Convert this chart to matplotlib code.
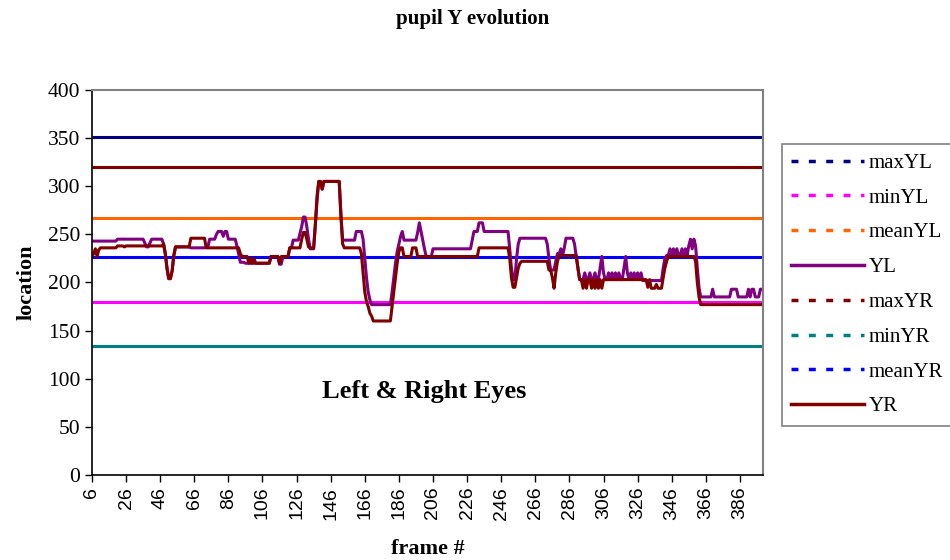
#coding:utf-8
import numpy as np
import matplotlib
matplotlib.use('Agg')
import matplotlib.pyplot as plt
from matplotlib.lines import Line2D

# frame where each run of constant value starts, and its value
yl_start = [6, 21, 37, 38, 40, 41, 48, 49, 50, 51, 53, 54, 55, 64, 73, 75, 79, 80, 83, 84, 86, 91, 92,
            93, 96, 111, 116, 118, 122, 124, 128, 129, 130, 132, 133, 134, 137, 138, 139, 141, 142, 152, 153,
            154, 161, 165, 166, 167, 168, 169, 170, 182, 183, 184, 185, 186, 187, 188, 189, 197, 198, 199,
            200, 201, 202, 206, 229, 230, 233, 236, 251, 252, 253, 255, 256, 257, 273, 274, 275, 278, 279,
            281, 282, 283, 284, 289, 290, 291, 292, 295, 296, 298, 299, 301, 302, 304, 305, 306, 307, 309,
            310, 311, 312, 313, 314, 315, 316, 318, 319, 320, 321, 322, 323, 324, 325, 326, 327, 328, 329,
            341, 342, 343, 345, 346, 347, 348, 349, 350, 352, 353, 354, 355, 356, 357, 358, 359, 360, 361,
            362, 363, 370, 371, 381, 385, 391, 392, 393, 395, 398]
yl_val = [243, 245, 241, 237, 241, 245, 240, 230, 215, 204, 212, 228, 237, 236, 237, 245, 250, 253, 248, 253, 245, 238, 230,
          221, 220, 227, 219, 227, 236, 244, 251, 258, 268, 258, 245, 235, 260, 285, 305, 297, 305, 270, 244,
          244, 253, 245, 225, 205, 190, 182, 177, 190, 205, 220, 232, 240, 248, 253, 244, 252, 262, 253,
          244, 235, 227, 235, 244, 253, 262, 253, 235, 215, 203, 225, 240, 246, 240, 225, 213, 222, 230,
          235, 228, 236, 246, 240, 227, 215, 203, 210, 203, 210, 203, 210, 203, 215, 227, 210, 203, 210,
          203, 210, 203, 210, 203, 210, 203, 215, 227, 210, 203, 210, 203, 210, 203, 210, 203, 210, 202,
          215, 225, 228, 235, 228, 235, 228, 235, 228, 235, 228, 235, 228, 238, 245, 235, 245, 238, 215,
          195, 185, 193, 185, 193, 185, 193, 185, 193, 185, 193]

yr_start = [6, 7, 8, 9, 10, 11, 21, 25, 26, 48, 49, 50, 51, 53, 54, 55, 64, 73, 93, 94, 98, 99, 100, 101,
            102, 111, 116, 117, 122, 129, 130, 132, 133, 134, 137, 138, 139, 141, 142, 152, 153, 154, 164,
            165, 166, 167, 168, 169, 170, 171, 182, 183, 184, 185, 186, 187, 189, 194, 197, 233, 251, 252,
            253, 255, 256, 257, 258, 274, 276, 277, 278, 279, 280, 291, 292, 294, 295, 296, 297, 299, 300,
            301, 302, 303, 304, 305, 306, 332, 333, 334, 337, 338, 341, 342, 343, 344, 360, 361, 362, 363]
yr_val = [227, 230, 235, 227, 234, 236, 238, 237, 238, 240, 230, 215, 204, 212, 228, 237, 246, 236, 230, 227, 220, 225, 220, 225,
          220, 227, 220, 227, 236, 245, 252, 245, 237, 236, 260, 290, 305, 297, 305, 270, 240, 236, 230,
          210, 190, 180, 175, 168, 165, 160, 175, 190, 205, 220, 232, 236, 227, 236, 227, 236, 225, 205,
          195, 205, 215, 220, 222, 213, 205, 194, 210, 222, 228, 215, 203, 194, 203, 194, 203, 194, 203,
          194, 203, 194, 203, 194, 203, 195, 203, 194, 198, 194, 205, 215, 222, 227, 222, 200, 185, 177]

last_frame = 399

# summary lines
ref_names = ['maxYL', 'minYL', 'meanYL', 'maxYR', 'minYR', 'meanYR']
ref_vals = [351, 180, 267, 320, 134, 227]
ref_colors = ['#000080', '#FF00FF', '#FF6600', '#800000', '#008080', '#0000FF']

legend_names = ['maxYL', 'minYL', 'meanYL', 'YL', 'maxYR', 'minYR', 'meanYR', 'YR']
yl_color = '#800080'
yr_color = '#800000'

xticks = list(range(6, 387, 20))


def expand(starts, vals):
    counts = np.diff(starts + [last_frame + 1])
    return np.repeat(vals, counts)


def main():
    serif = ['Liberation Serif', 'DejaVu Serif']
    sans = ['Liberation Sans', 'DejaVu Sans']
    frames = np.arange(6, last_frame + 1)
    yl = expand(yl_start, yl_val)
    yr = expand(yr_start, yr_val)

    fig = plt.figure(figsize=(9.5, 5.6), dpi=100)
    ax = fig.add_axes([0.0968, 0.1518, 0.7063, 0.6875])

    for name, v, c in zip(ref_names, ref_vals, ref_colors):
        ax.plot([6, last_frame + 0.5], [v, v], color=c, lw=2.2, solid_capstyle='butt')
    ax.plot(frames, yl, color=yl_color, lw=2.2)
    ax.plot(frames, yr, color=yr_color, lw=2.2)

    ax.set_xlim(6, last_frame + 0.5)
    ax.set_ylim(0, 400)
    ax.set_yticks(range(0, 401, 50))
    ax.set_xticks(xticks)
    ax.set_xticklabels([str(t) for t in xticks], rotation=90, family=sans, fontsize=14)
    ax.set_yticklabels([str(t) for t in range(0, 401, 50)], family=serif, fontsize=15.5)
    ax.tick_params(direction='out', length=5, width=1, colors='black')
    for s in ['top', 'right']:
        ax.spines[s].set_color('#808080')
        ax.spines[s].set_linewidth(1.5)
    for s in ['left', 'bottom']:
        ax.spines[s].set_color('black')
        ax.spines[s].set_linewidth(1.2)

    ax.set_xlabel('frame #', family=serif, fontweight='bold', fontsize=16, labelpad=14)
    ax.set_ylabel('location', family=serif, fontweight='bold', fontsize=16, labelpad=8)
    fig.text(0.497, 0.966, 'pupil Y evolution', family=serif, fontweight='bold', fontsize=15,
             ha='center', va='center')
    ax.text(0.495, 0.216, 'Left & Right Eyes', transform=ax.transAxes, family=serif,
            fontweight='bold', fontsize=19, ha='center', va='center')

    handles = []
    leg_colors = ref_colors[:3] + [yl_color] + ref_colors[3:] + [yr_color]
    for name, c in zip(legend_names, leg_colors):
        if name in ('YL', 'YR'):
            handles.append(Line2D([], [], color=c, lw=2.5))
        else:
            handles.append(Line2D([], [], color=c, lw=2.5, linestyle=(0, (2, 3))))
    leg = fig.legend(handles, legend_names, loc='upper left', bbox_to_anchor=(0.823, 0.743),
                     prop={'family': serif, 'size': 15}, frameon=True, fancybox=False,
                     handlelength=3.5, handletextpad=0.2, labelspacing=0.73, borderpad=0.45,
                     borderaxespad=0)
    leg.get_frame().set_edgecolor('#606060')
    leg.get_frame().set_linewidth(1.2)

    fig.savefig('out.png', dpi=100)


if __name__ == '__main__':
    main()
